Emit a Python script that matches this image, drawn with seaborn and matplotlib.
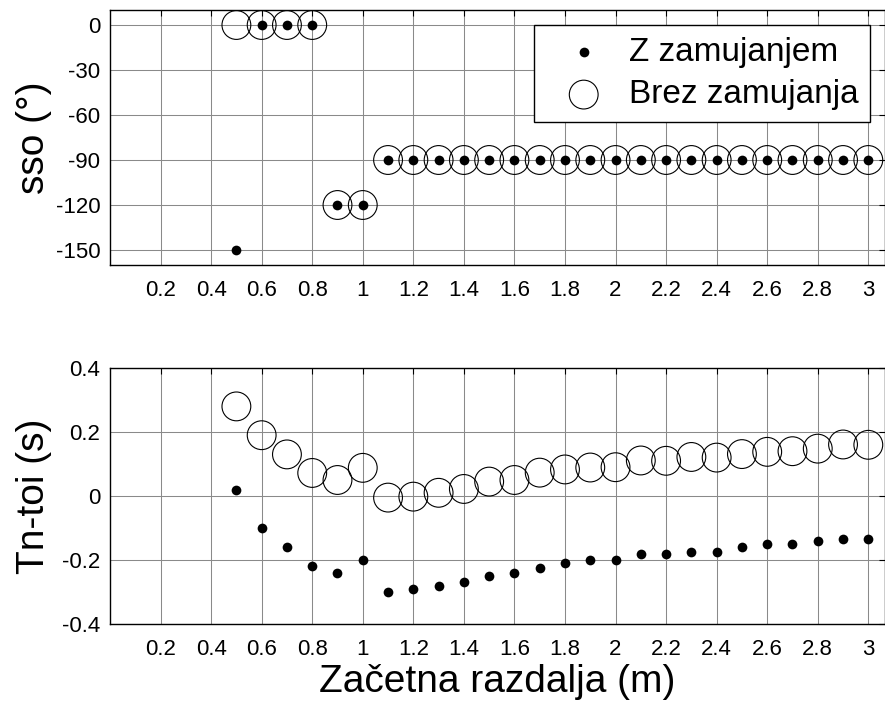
import matplotlib
matplotlib.use("Agg")
import matplotlib.pyplot as plt
import seaborn as sns
import pandas as pd

# Starting distance (m)
distance = [0.5, 0.6, 0.7, 0.8, 0.9, 1.0, 1.1, 1.2, 1.3, 1.4, 1.5, 1.6, 1.7,
            1.8, 1.9, 2.0, 2.1, 2.2, 2.3, 2.4, 2.5, 2.6, 2.7, 2.8, 2.9, 3.0]

# sso (deg)
sso_delay = [-150, 0, 0, 0, -120, -120, -90, -90, -90, -90, -90, -90, -90,
             -90, -90, -90, -90, -90, -90, -90, -90, -90, -90, -90, -90, -90]
sso_nodelay = [0, 0, 0, 0, -120, -120, -90, -90, -90, -90, -90, -90, -90,
               -90, -90, -90, -90, -90, -90, -90, -90, -90, -90, -90, -90, -90]

# Tn - toi (s)
tn_delay = [0.02, -0.10, -0.16, -0.22, -0.24, -0.20, -0.30, -0.29, -0.28,
            -0.27, -0.25, -0.24, -0.225, -0.21, -0.20, -0.20, -0.18, -0.18,
            -0.175, -0.175, -0.16, -0.15, -0.15, -0.14, -0.133, -0.133]
tn_nodelay = [0.28, 0.19, 0.13, 0.072, 0.05, 0.088, -0.005, -0.002, 0.01,
              0.022, 0.045, 0.05, 0.073, 0.083, 0.089, 0.09, 0.111, 0.11,
              0.122, 0.12, 0.131, 0.138, 0.14, 0.148, 0.161, 0.16]

label_delay = "Z zamujanjem"
label_nodelay = "Brez zamujanja"

x_ticks = [0.2, 0.4, 0.6, 0.8, 1.0, 1.2, 1.4, 1.6, 1.8, 2.0, 2.2, 2.4, 2.6,
           2.8, 3.0]
x_ticklabels = ["0.2", "0.4", "0.6", "0.8", "1", "1.2", "1.4", "1.6", "1.8",
                "2", "2.2", "2.4", "2.6", "2.8", "3"]
sso_ticks = [0, -30, -60, -90, -120, -150]
tn_ticks = [-0.4, -0.2, 0, 0.2, 0.4]
tn_ticklabels = ["-0.4", "-0.2", "0", "0.2", "0.4"]

sns.set_theme(style="white")
plt.rcParams["font.family"] = ["Liberation Sans", "DejaVu Sans"]
plt.rcParams["text.color"] = "black"
plt.rcParams["axes.labelcolor"] = "black"

df = pd.DataFrame({
    "distance": distance,
    "sso_delay": sso_delay,
    "sso_nodelay": sso_nodelay,
    "tn_delay": tn_delay,
    "tn_nodelay": tn_nodelay,
})

W, H = 885, 701
fig = plt.figure(figsize=(W / 100, H / 100), dpi=100)
ax_top = fig.add_axes([110 / W, 1 - 265 / H, 1 - 110 / W, 255 / H])
ax_bot = fig.add_axes([110 / W, 1 - 624 / H, 1 - 110 / W, 256 / H])

DOT_S = 49
RING_S = 430


def draw(ax, ycol_delay, ycol_nodelay):
    sns.scatterplot(data=df, x="distance", y=ycol_delay, ax=ax, s=DOT_S,
                    marker="o", color="black", edgecolor="black",
                    linewidth=0, label=label_delay, zorder=3)
    sns.scatterplot(data=df, x="distance", y=ycol_nodelay, ax=ax, s=RING_S,
                    marker="o", facecolors="none", edgecolor="black",
                    linewidth=0.8, label=label_nodelay, zorder=3)
    ax.set_xlim(0, 3.066)
    ax.set_xticks(x_ticks)
    ax.set_xticklabels(x_ticklabels)
    ax.grid(True, color="#8a8a8a", linewidth=0.75, linestyle="-")
    ax.set_axisbelow(True)
    ax.tick_params(axis="both", which="major", direction="in", length=4,
                   width=0.8, color="black", labelsize=16, pad=7,
                   top=True, right=True, labelcolor="black")
    ax.tick_params(axis="x", pad=11)
    for sp in ax.spines.values():
        sp.set_visible(True)
        sp.set_color("black")
        sp.set_linewidth(1.0)
    ax.set_xlabel("")


draw(ax_top, "sso_delay", "sso_nodelay")
ax_top.set_ylim(-160, 10)
ax_top.set_yticks(sso_ticks)
ax_top.set_yticklabels([str(v) for v in sso_ticks])
ax_top.set_ylabel("sso (°)", fontsize=28)
ax_top.yaxis.set_label_coords(-0.075, 0.5)
leg = ax_top.legend(loc="upper right",
                    bbox_to_anchor=(870 / W, 1 - 25 / H),
                    bbox_transform=fig.transFigure, borderaxespad=0,
                    fontsize=24, frameon=True, fancybox=False, shadow=False,
                    framealpha=1, edgecolor="black", borderpad=0.35,
                    labelspacing=0.35, handlelength=2.3, handletextpad=0.2)
leg.get_frame().set_linewidth(1.0)
leg.set_zorder(5)

draw(ax_bot, "tn_delay", "tn_nodelay")
if ax_bot.get_legend() is not None:
    ax_bot.get_legend().remove()
ax_bot.set_ylim(-0.4, 0.4)
ax_bot.set_yticks(tn_ticks)
ax_bot.set_yticklabels(tn_ticklabels)
ax_bot.set_ylabel("Tn-toi (s)", fontsize=28)
ax_bot.yaxis.set_label_coords(-0.075, 0.5)
ax_bot.set_xlabel("Začetna razdalja (m)", fontsize=28)
ax_bot.xaxis.set_label_coords(0.5, -0.156)

fig.savefig("out.png", dpi=100, facecolor="white")
